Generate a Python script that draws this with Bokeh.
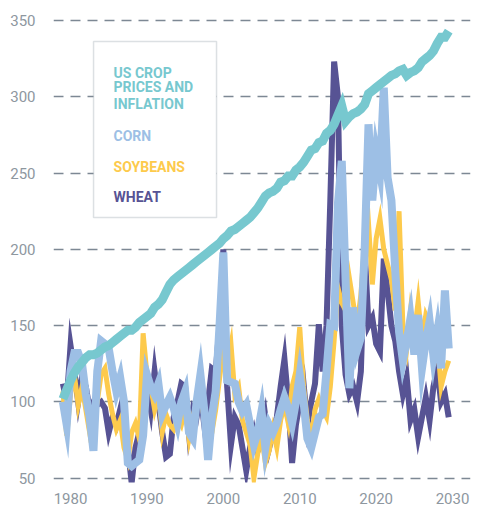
from bokeh.plotting import figure
from bokeh.models import FixedTicker, Label, BoxAnnotation, Range1d
from bokeh.embed import file_html
from bokeh.resources import INLINE

# Half-year time points, 1979.0 .. 2029.5
YEARS = [1979 + 0.5 * i for i in range(102)]

INFLATION = [102, 108, 114, 119, 123, 126, 129, 131, 131, 132,
             134, 136, 137, 139, 141, 143, 145, 147, 147, 149,
             152, 154, 156, 158, 162, 164, 167, 172, 177, 180,
             182, 184, 186, 188, 190, 192, 194, 196, 198, 200,
             202, 204, 207, 209, 212, 213, 215, 217, 219, 221,
             224, 227, 231, 235, 237, 238, 240, 244, 245, 248,
             248, 252, 254, 257, 261, 265, 266, 270, 271, 276,
             278, 282, 288, 294, 284, 287, 289, 290, 292, 295,
             302, 304, 306, 308, 310, 312, 314, 315, 317, 318,
             314, 316, 317, 319, 323, 325, 327, 330, 335, 339,
             339, 343]

CORN = [100, 85, 120, 132, 132, 125, 105, 90, 68, 120,
        140, 138, 135, 120, 107, 116, 100, 60, 58, 60,
        62, 78, 118, 110, 105, 112, 92, 98, 103, 96,
        86, 100, 107, 80, 76, 100, 118, 95, 62, 90,
        107, 150, 198, 114, 113, 112, 100, 94, 98, 85,
        72, 80, 94, 70, 85, 80, 86, 95, 103, 96,
        86, 100, 118, 100, 76, 70, 80, 90, 92, 120,
        151, 150, 230, 258, 180, 109, 162, 134, 142, 200,
        282, 232, 264, 250, 306, 247, 232, 186, 146, 127,
        140, 155, 131, 157, 122, 140, 153, 130, 146, 122,
        173, 135]

SOYBEANS = [107, 78, 105, 118, 98, 110, 95, 80, 88, 100,
            118, 122, 105, 92, 82, 88, 70, 62, 80, 86,
            76, 145, 118, 110, 95, 105, 80, 92, 85, 82,
            90, 85, 95, 76, 90, 100, 108, 88, 78, 80,
            95, 115, 135, 125, 138, 105, 110, 88, 80, 72,
            50, 66, 78, 60, 68, 82, 70, 88, 98, 86,
            110, 120, 149, 110, 88, 75, 95, 102, 95, 90,
            110, 140, 175, 165, 160, 181, 165, 150, 170, 205,
            217, 177, 207, 220, 200, 190, 180, 160, 225, 150,
            135, 160, 145, 166, 140, 157, 151, 130, 140, 110,
            120, 127]

WHEAT = [112, 100, 137, 120, 100, 116, 110, 95, 100, 98,
         100, 96, 80, 90, 85, 95, 80, 70, 47, 70,
         80, 90, 110, 95, 120, 100, 80, 64, 66, 90,
         100, 112, 110, 80, 95, 90, 105, 85, 100, 122,
         120, 150, 200, 110, 72, 90, 85, 70, 55, 70,
         80, 68, 75, 90, 70, 80, 90, 110, 128, 100,
         60, 85, 100, 112, 85, 100, 112, 151, 120, 150,
         232, 323, 300, 150, 118, 105, 110, 100, 120, 199,
         150, 155, 138, 133, 194, 173, 150, 140, 120, 105,
         116, 88, 95, 77, 90, 103, 88, 110, 122, 100,
         105, 90]

X_TICKS = [1980, 1990, 2000, 2010, 2020, 2030]
Y_TICKS = [50, 100, 150, 200, 250, 300, 350]

LEGEND_LINES = ["US CROP", "PRICES AND", "INFLATION", "CORN", "SOYBEANS", "WHEAT"]

C_INFL = "#77c8cf"
C_CORN = "#9dbfe5"
C_SOY = "#fdca4c"
C_WHEAT = "#575394"
C_GRID = "#7d8894"
C_TEXT = "#8e979f"

p = figure(width=476, height=506, output_backend="svg", toolbar_location=None,
           x_range=Range1d(1977.77, 2032.35), y_range=Range1d(47.2, 355.24),
           min_border_left=53, min_border_right=6, min_border_top=12, min_border_bottom=10)
p.outline_line_color = None
p.background_fill_color = "white"
p.border_fill_color = "white"

p.line(YEARS, WHEAT, line_color=C_WHEAT, line_width=6, line_join="miter")
p.line(YEARS, SOYBEANS, line_color=C_SOY, line_width=5, line_join="miter")
p.line(YEARS, CORN, line_color=C_CORN, line_width=8, line_join="miter")
p.line(YEARS, INFLATION, line_color=C_INFL, line_width=9, line_join="miter")

p.xgrid.grid_line_color = None
p.ygrid.grid_line_color = C_GRID
p.ygrid.grid_line_width = 1.5
p.ygrid.grid_line_dash = "10 7"
p.ygrid.ticker = FixedTicker(ticks=Y_TICKS)

for ax in (p.xaxis, p.yaxis):
    ax.axis_line_color = None
    ax.major_tick_line_color = None
    ax.minor_tick_line_color = None
    ax.major_label_text_color = C_TEXT
    ax.major_label_text_font = "Roboto"
    ax.major_label_text_font_size = "15px"
p.xaxis.ticker = FixedTicker(ticks=X_TICKS)
p.yaxis.ticker = FixedTicker(ticks=Y_TICKS)
p.xaxis.major_label_standoff = 4
p.yaxis.major_label_standoff = 12

# legend box
box = BoxAnnotation(left=1983.01, right=1999.11, top=336.2, bottom=220.9,
                    fill_color="white", fill_alpha=1.0,
                    line_color="#8c98a2", line_width=1.5, level="overlay")
p.add_layout(box)

legend_colors = [C_INFL, C_INFL, C_INFL, C_CORN, C_SOY, C_WHEAT]
legend_y = [315.9, 306.1, 295.0, 274.6, 253.7, 234.0]
for txt, col, yy in zip(LEGEND_LINES, legend_colors, legend_y):
    p.add_layout(Label(x=1985.63, y=yy, text=txt, text_color=col,
                       text_font="Roboto", text_font_style="bold",
                       text_font_size="14px", text_baseline="alphabetic",
                       level="overlay"))

open("out.html", "w").write(file_html(p, INLINE))
